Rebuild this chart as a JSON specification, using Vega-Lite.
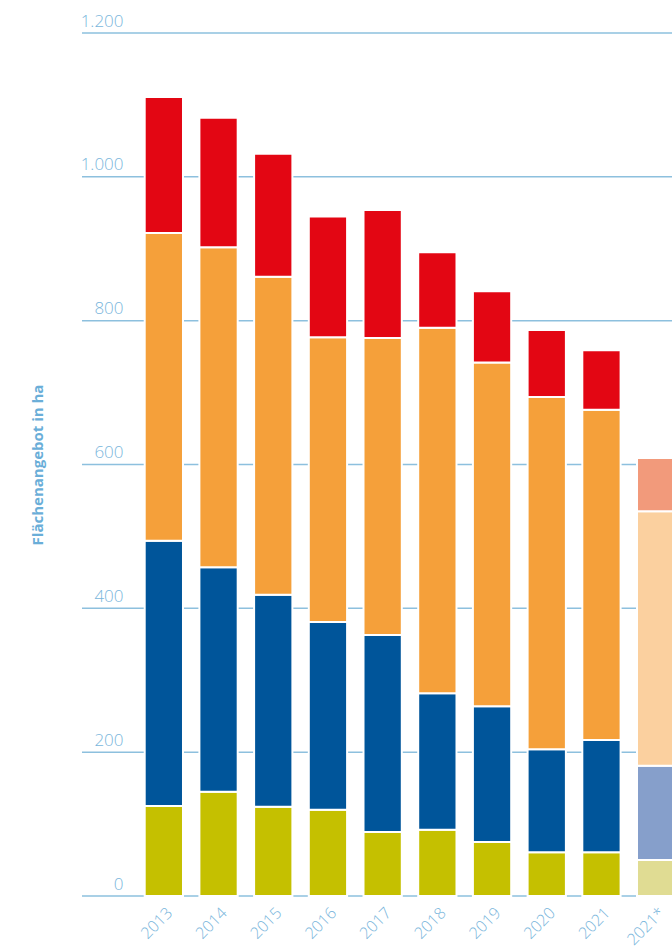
{
  "$schema": "https://vega.github.io/schema/vega-lite/v6.json",
  "autosize": {"type": "none"},
  "padding": {"left": 82, "top": 33, "right": 0, "bottom": 60},
  "width": 600,
  "height": 863,
  "background": "white",
  "config": {
    "view": {"stroke": null}, "font": "Open Sans",
    "axisY": {
      "domain": false, "ticks": false, "tickSize": 0, "grid": false,
      "labelAlign": "right", "labelBaseline": "bottom",
      "labelPadding": -41, "labelOffset": -3,
      "labelColor": "#7ab6dc", "labelFontSize": 17, "labelFontWeight": 300,
      "labelFont": "Open Sans",
      "titleColor": "#6aaed8", "titleFontSize": 15, "titleFontWeight": "bold",
      "titleFont": "Open Sans", "titleX": -45, "titleY": 431.5,
      "titleAngle": -90, "titleAlign": "center", "titleBaseline": "middle"
    }
  },
  "datasets": {
    "gitter": [{"g": 0}, {"g": 200}, {"g": 400}, {"g": 600}, {"g": 800}, {"g": 1000}, {"g": 1200}],
    "balken": [
    {"jahr": "2013", "serie": "gelb", "ord": 1, "wert": 125},
    {"jahr": "2013", "serie": "blau", "ord": 2, "wert": 369},
    {"jahr": "2013", "serie": "orange", "ord": 3, "wert": 428},
    {"jahr": "2013", "serie": "rot", "ord": 4, "wert": 189},
    {"jahr": "2014", "serie": "gelb", "ord": 1, "wert": 145},
    {"jahr": "2014", "serie": "blau", "ord": 2, "wert": 312},
    {"jahr": "2014", "serie": "orange", "ord": 3, "wert": 445},
    {"jahr": "2014", "serie": "rot", "ord": 4, "wert": 180},
    {"jahr": "2015", "serie": "gelb", "ord": 1, "wert": 124},
    {"jahr": "2015", "serie": "blau", "ord": 2, "wert": 295},
    {"jahr": "2015", "serie": "orange", "ord": 3, "wert": 442},
    {"jahr": "2015", "serie": "rot", "ord": 4, "wert": 171},
    {"jahr": "2016", "serie": "gelb", "ord": 1, "wert": 120},
    {"jahr": "2016", "serie": "blau", "ord": 2, "wert": 261},
    {"jahr": "2016", "serie": "orange", "ord": 3, "wert": 396},
    {"jahr": "2016", "serie": "rot", "ord": 4, "wert": 168},
    {"jahr": "2017", "serie": "gelb", "ord": 1, "wert": 89},
    {"jahr": "2017", "serie": "blau", "ord": 2, "wert": 274},
    {"jahr": "2017", "serie": "orange", "ord": 3, "wert": 413},
    {"jahr": "2017", "serie": "rot", "ord": 4, "wert": 178},
    {"jahr": "2018", "serie": "gelb", "ord": 1, "wert": 92},
    {"jahr": "2018", "serie": "blau", "ord": 2, "wert": 190},
    {"jahr": "2018", "serie": "orange", "ord": 3, "wert": 508},
    {"jahr": "2018", "serie": "rot", "ord": 4, "wert": 105},
    {"jahr": "2019", "serie": "gelb", "ord": 1, "wert": 75},
    {"jahr": "2019", "serie": "blau", "ord": 2, "wert": 189},
    {"jahr": "2019", "serie": "orange", "ord": 3, "wert": 478},
    {"jahr": "2019", "serie": "rot", "ord": 4, "wert": 99},
    {"jahr": "2020", "serie": "gelb", "ord": 1, "wert": 61},
    {"jahr": "2020", "serie": "blau", "ord": 2, "wert": 143},
    {"jahr": "2020", "serie": "orange", "ord": 3, "wert": 490},
    {"jahr": "2020", "serie": "rot", "ord": 4, "wert": 93},
    {"jahr": "2021", "serie": "gelb", "ord": 1, "wert": 61},
    {"jahr": "2021", "serie": "blau", "ord": 2, "wert": 156},
    {"jahr": "2021", "serie": "orange", "ord": 3, "wert": 459},
    {"jahr": "2021", "serie": "rot", "ord": 4, "wert": 83},
    {"jahr": "2021*", "serie": "gelb*", "ord": 1, "wert": 50},
    {"jahr": "2021*", "serie": "blau*", "ord": 2, "wert": 131},
    {"jahr": "2021*", "serie": "orange*", "ord": 3, "wert": 354},
    {"jahr": "2021*", "serie": "rot*", "ord": 4, "wert": 74}
  ]},
  "layer": [
    {
      "data": {"name": "gitter"},
      "mark": {"type": "rule", "color": "#8dc0de", "strokeWidth": 1.5},
      "encoding": {
        "y": {
          "field": "g", "type": "quantitative",
          "scale": {"domain": [0, 1200], "nice": false},
          "axis": {
            "values": [0, 200, 400, 600, 800, 1000, 1200],
            "labelExpr": "replace(format(datum.value, ','), ',', '.')",
            "title": "Flächenangebot in ha"
          }
        }
      }
    },
    {
      "data": {"name": "balken"},
      "mark": {"type": "bar", "stroke": "white", "strokeWidth": 2},
      "encoding": {
        "x": {
          "field": "jahr", "type": "nominal", "sort": null,
          "scale": {"paddingInner": 0.3, "paddingOuter": 1, "range": [8, 648]},
          "axis": {
            "title": null, "domain": false, "ticks": false, "grid": false,
            "labelAngle": -45, "labelAlign": "right", "labelBaseline": "middle",
            "labelPadding": 14, "labelOffset": 6,
            "labelColor": "#7ab6dc", "labelFontSize": 16, "labelFontWeight": 300,
            "labelFont": "Open Sans"
          }
        },
        "y": {
          "field": "wert", "type": "quantitative", "stack": "zero",
          "scale": {"domain": [0, 1200], "nice": false},
          "axis": {
            "values": [0, 200, 400, 600, 800, 1000, 1200],
            "labelExpr": "replace(format(datum.value, ','), ',', '.')",
            "title": "Flächenangebot in ha"
          }
        },
        "color": {
          "field": "serie", "type": "nominal", "legend": null,
          "scale": {
            "domain": ["gelb", "blau", "orange", "rot", "gelb*", "blau*", "orange*", "rot*"],
            "range": ["#c5c000", "#00559a", "#f5a03a", "#e30613", "#e0dc93", "#869fcb", "#fbd09f", "#f29a7b"]
          }
        },
        "order": {"field": "ord", "type": "quantitative"}
      }
    }
  ]
}
